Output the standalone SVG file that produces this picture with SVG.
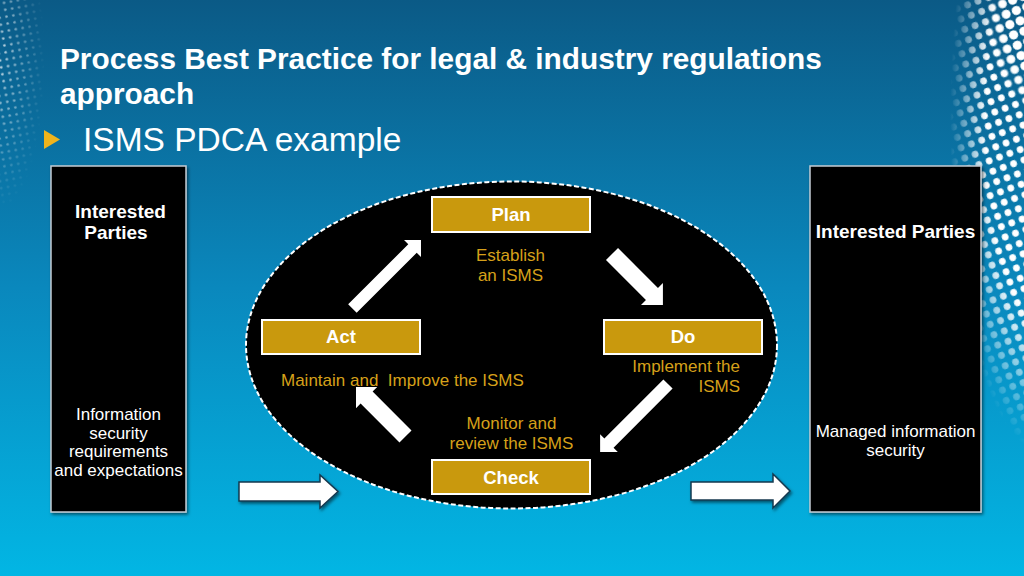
<svg xmlns="http://www.w3.org/2000/svg" width="1024" height="576" viewBox="0 0 1024 576">
<defs>
<linearGradient id="bg" x1="0" y1="0" x2="0" y2="1">
<stop offset="0" stop-color="#0b5a86"/>
<stop offset="0.5" stop-color="#0a88bd"/>
<stop offset="1" stop-color="#02b6e4"/>
</linearGradient>
<pattern id="dotsR" width="11" height="11" patternUnits="userSpaceOnUse" patternTransform="rotate(-20)">
<circle cx="5.5" cy="5.5" r="3.4" fill="#ffffff"/>
</pattern>
<pattern id="dotsRB" width="11" height="11" patternUnits="userSpaceOnUse" patternTransform="rotate(-20)">
<circle cx="5.5" cy="5.5" r="4.6" fill="#ffffff"/>
</pattern>
<pattern id="dotsL" width="7" height="7" patternUnits="userSpaceOnUse" patternTransform="rotate(-10)">
<circle cx="3.5" cy="3.5" r="1.3" fill="#ffffff"/>
</pattern>
<radialGradient id="fadeR" cx="1040" cy="120" r="1" gradientUnits="userSpaceOnUse" gradientTransform="translate(1040 120) scale(90 330) translate(-1040 -120)">
<stop offset="0" stop-color="#fff"/>
<stop offset="0.6" stop-color="#fff"/>
<stop offset="1" stop-color="#fff" stop-opacity="0"/>
</radialGradient>
<radialGradient id="fadeRB" cx="1040" cy="20" r="1" gradientUnits="userSpaceOnUse" gradientTransform="translate(1040 20) scale(55 90) translate(-1040 -20)">
<stop offset="0" stop-color="#fff"/>
<stop offset="0.6" stop-color="#fff"/>
<stop offset="1" stop-color="#fff" stop-opacity="0"/>
</radialGradient>
<radialGradient id="fadeL" cx="0" cy="60" r="1" gradientUnits="userSpaceOnUse" gradientTransform="translate(0 60) scale(45 150) translate(0 -60)">
<stop offset="0" stop-color="#fff" stop-opacity="0.8"/>
<stop offset="1" stop-color="#fff" stop-opacity="0"/>
</radialGradient>
<mask id="mR"><rect x="900" y="0" width="124" height="576" fill="url(#fadeR)"/></mask>
<mask id="mRB"><rect x="900" y="0" width="124" height="200" fill="url(#fadeRB)"/></mask>
<mask id="mL"><rect x="0" y="0" width="60" height="260" fill="url(#fadeL)"/></mask>
<filter id="sh" x="-10%" y="-10%" width="130%" height="130%">
<feDropShadow dx="1.5" dy="2" stdDeviation="1.5" flood-color="#000" flood-opacity="0.5"/>
</filter>
</defs>
<style>
.title{font-family:"Liberation Sans",Arial,sans-serif;font-weight:bold;font-size:29.8px;fill:#ffffff}
.sub{font-family:"Liberation Sans",Arial,sans-serif;font-size:33.5px;fill:#ffffff}
.party{fill:#000000;stroke:#c4ccd4;stroke-width:1.5}
.ph{font-family:"Liberation Sans",Arial,sans-serif;font-weight:bold;font-size:19px;fill:#ffffff;text-anchor:middle}
.pt{font-family:"Liberation Sans",Arial,sans-serif;font-size:17px;fill:#ffffff;text-anchor:middle}
.step{fill:#c9990a;stroke:#ffffff;stroke-width:2}
.st{font-family:"Liberation Sans",Arial,sans-serif;font-weight:bold;font-size:18.5px;fill:#ffffff;text-anchor:middle}
.gl{font-family:"Liberation Sans",Arial,sans-serif;font-size:17px;fill:#d6a01a}
.warrow{fill:#ffffff}
.harrow{fill:#ffffff;stroke:#16394f;stroke-width:1.5;stroke-linejoin:miter}
</style>
<rect x="0" y="0" width="1024" height="576" fill="url(#bg)"/>
<rect x="900" y="0" width="124" height="576" fill="url(#dotsR)" mask="url(#mR)"/>
<rect x="900" y="0" width="124" height="200" fill="url(#dotsRB)" mask="url(#mRB)"/>
<rect x="0" y="0" width="60" height="260" fill="url(#dotsL)" mask="url(#mL)"/>

<text class="title" x="60" y="69">Process Best Practice for legal &amp; industry regulations</text>
<text class="title" x="60" y="104">approach</text>
<polygon points="44,130 60,139.5 44,149" fill="#f0b41c"/>
<text class="sub" x="83" y="151">ISMS PDCA example</text>

<g id="left-parties">
<rect class="party" x="51" y="166" width="135" height="346" filter="url(#sh)"/>
<text class="ph" x="120.5" y="218">Interested</text>
<text class="ph" x="116" y="239">Parties</text>
<text class="pt" x="118.5" y="420">Information</text>
<text class="pt" x="118.5" y="438.5">security</text>
<text class="pt" x="118.5" y="457">requirements</text>
<text class="pt" x="118.5" y="475.5">and expectations</text>
</g>

<g id="right-parties">
<rect class="party" x="810" y="166" width="171" height="346" filter="url(#sh)"/>
<text class="ph" x="895.5" y="238">Interested Parties</text>
<text class="pt" x="895.5" y="437">Managed information</text>
<text class="pt" x="895.5" y="455.5">security</text>
</g>

<g id="pdca-cycle">
<ellipse cx="511.5" cy="345" rx="265.5" ry="163.5" fill="#000000" stroke="#ffffff" stroke-width="2" stroke-dasharray="5 2.5"/>
</g>

<g id="plan">
<rect class="step" x="432" y="197" width="158" height="35" filter="url(#sh)"/>
<text class="st" x="511" y="221">Plan</text>
<text class="gl" x="510.5" y="261" text-anchor="middle">Establish</text>
<text class="gl" x="510.5" y="281" text-anchor="middle">an ISMS</text>
</g>

<g id="do">
<rect class="step" x="604" y="320" width="158" height="34" filter="url(#sh)"/>
<text class="st" x="683" y="343">Do</text>
<text class="gl" x="740" y="372" text-anchor="end">Implement the</text>
<text class="gl" x="740" y="392" text-anchor="end">ISMS</text>
</g>

<g id="check">
<rect class="step" x="432" y="460" width="158" height="34" filter="url(#sh)"/>
<text class="st" x="511" y="483.5">Check</text>
<text class="gl" x="511.5" y="428.5" text-anchor="middle">Monitor and</text>
<text class="gl" x="511.5" y="448.5" text-anchor="middle">review the ISMS</text>
</g>

<g id="act">
<rect class="step" x="262" y="320" width="158" height="34" filter="url(#sh)"/>
<text class="st" x="341" y="343">Act</text>
<text class="gl" x="281" y="386" xml:space="preserve">Maintain and  Improve the ISMS</text>
</g>

<g id="connectors">
<polygon class="warrow" transform="translate(352.4 308.6) rotate(-45)" points="0,-6 85,-6 85,-12 97,0 85,12 85,6 0,6"/>
<polygon class="warrow" transform="translate(612 254) rotate(45)" points="0,-8.5 56.5,-8.5 56.5,-15.5 72,0 56.5,15.5 56.5,8.5 0,8.5"/>
<polygon class="warrow" transform="translate(668 384) rotate(135)" points="0,-6.5 83.5,-6.5 83.5,-12.5 96,0 83.5,12.5 83.5,6.5 0,6.5"/>
<polygon class="warrow" transform="translate(405.5 436.5) rotate(-135)" points="0,-8.5 55,-8.5 55,-15 70,0 55,15 55,8.5 0,8.5"/>
<polygon class="harrow" filter="url(#sh)" points="239,482 320,482 320,475 338,491.5 320,508 320,501 239,501"/>
<polygon class="harrow" filter="url(#sh)" points="691,482 773,482 773,474 790,491 773,508 773,500 691,500"/>
</g>
</svg>
